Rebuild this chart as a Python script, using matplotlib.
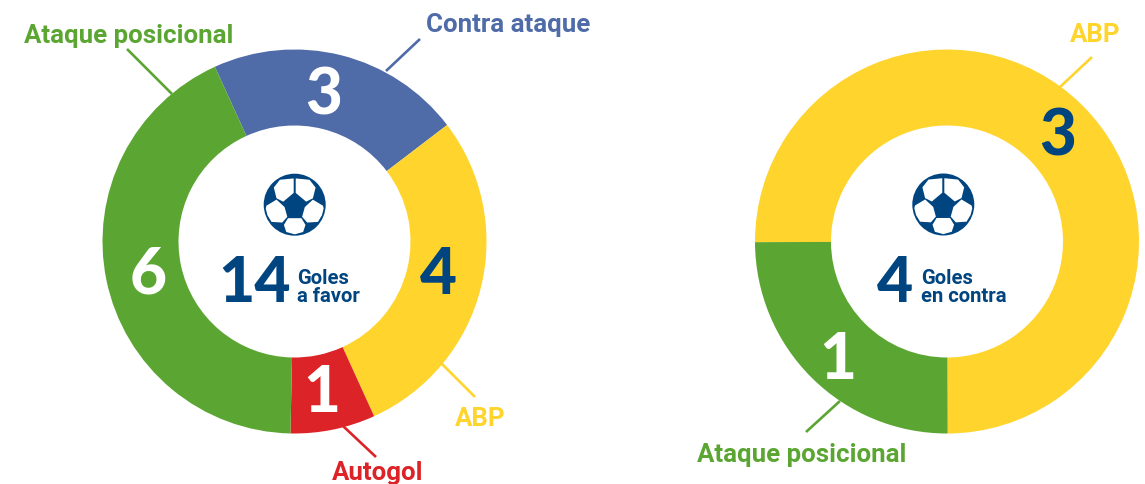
import matplotlib
matplotlib.use("Agg")
import matplotlib.pyplot as plt
from matplotlib.patches import Circle, Polygon

W, H = 1145, 485
GREEN, BLUE, YELLOW, RED, NAVY = '#5BA632', '#4F6BA8', '#FED42D', '#DC2327', '#004480'

favor_labels = ['Contra ataque', 'ABP', 'Autogol', 'Ataque posicional']
favor_values = [3, 4, 1, 6]
favor_colors = [BLUE, YELLOW, RED, GREEN]
favor_value_colors = ['white', NAVY, 'white', 'white']
favor_total = 14

contra_labels = ['ABP', 'Ataque posicional']
contra_values = [3, 1]
contra_colors = [YELLOW, GREEN]
contra_value_colors = [NAVY, 'white']
contra_total = 4

TEXT_FONT = ['Roboto', 'DejaVu Sans']
NUM_FONT = ['Lato', 'DejaVu Sans']
plt.rcParams['font.family'] = TEXT_FONT

fig = plt.figure(figsize=(W / 100, H / 100), dpi=100)
ax = fig.add_axes([0, 0, 1, 1])
ax.set_xlim(0, W)
ax.set_ylim(0, H)
ax.axis('off')


def Y(y):
    return H - y


def donut(values, colors, cx, cy, start):
    ax.pie(values, colors=colors, startangle=start, counterclock=False,
           center=(cx, Y(cy)), radius=192,
           wedgeprops=dict(width=76, linewidth=0), frame=True)
    ax.set_xlim(0, W)
    ax.set_ylim(0, H)
    ax.set_aspect('auto')
    ax.axis('off')


def ball(cx, cy, r=31):
    top_left = [(42, 50), (60, 27), (101, 23), (101, 66), (70, 92), (50, 82)]
    left = [(18, 112), (20, 104), (50, 86), (74, 108), (82, 137), (67, 154), (35, 152), (23, 132)]
    bottom = [(72, 161), (84, 141), (124, 141), (136, 161), (129, 182), (104, 189), (79, 182)]
    cz, cz_y, rz = 104, 101, 92
    ax.add_patch(Circle((cx, Y(cy)), r, fc=NAVY, ec='none', zorder=5))
    shapes = [top_left, left, bottom]
    shapes += [[(2 * cz - x, y) for x, y in top_left], [(2 * cz - x, y) for x, y in left]]
    for s in shapes:
        pts = [(cx + (x - cz) / rz * r, Y(cy + (y - cz_y) / rz * r)) for x, y in s]
        ax.add_patch(Polygon(pts, closed=True, fc='white', ec='none', zorder=6))


def leader(p0, p1, color):
    ax.plot([p0[0], p1[0]], [Y(p0[1]), Y(p1[1])], color=color, lw=1.9, solid_capstyle='butt', zorder=1)


def label(x, y, s, color, ha='center', size=18.6, weight='bold', family=None):
    ax.text(x, Y(y), s, color=color, ha=ha, va='center', fontsize=size, fontweight=weight, zorder=7,
            family=family if family else TEXT_FONT)


donut(favor_values, favor_colors, 294.5, 242.5, 114.5)
donut(contra_values, contra_colors, 947, 242.5, 180.2)
ball(294.7, 205.7)
ball(943.3, 205.5)

# Left donut
for (x, y), v, c in zip([(324, 96), (438, 275), (322, 394), (148, 275)], favor_values, favor_value_colors):
    label(x, y, str(v), c, size=46, weight='black', family=NUM_FONT)
label(255, 284, str(favor_total), NAVY, size=45, weight='black', family=NUM_FONT)
label(297, 278, 'Goles', NAVY, ha='left', size=14.6)
label(297, 297, 'a favor', NAVY, ha='left', size=14.6)

leader((420, 40), (386, 72), BLUE)
leader((127, 50), (172, 95), GREEN)
leader((442, 365), (475, 398), YELLOW)
leader((343, 427), (376, 458), RED)
label(508, 25, favor_labels[0], BLUE)
label(480, 419, favor_labels[1], YELLOW)
label(378, 473, favor_labels[2], RED)
label(129, 36, favor_labels[3], GREEN)

# Right donut
for (x, y), v, c in zip([(1058, 137), (838, 361)], contra_values, contra_value_colors):
    label(x, y, str(v), c, size=46, weight='black', family=NUM_FONT)
label(895, 284, str(contra_total), NAVY, size=45, weight='black', family=NUM_FONT)
label(921, 278, 'Goles', NAVY, ha='left', size=14.6)
label(921, 297, 'en contra', NAVY, ha='left', size=14.6)

leader((1092, 58), (1060, 88), YELLOW)
leader((840, 402), (806, 433), GREEN)
label(1095, 35, contra_labels[0], YELLOW)
label(802, 455, contra_labels[1], GREEN)

fig.savefig('out.png', dpi=100)
